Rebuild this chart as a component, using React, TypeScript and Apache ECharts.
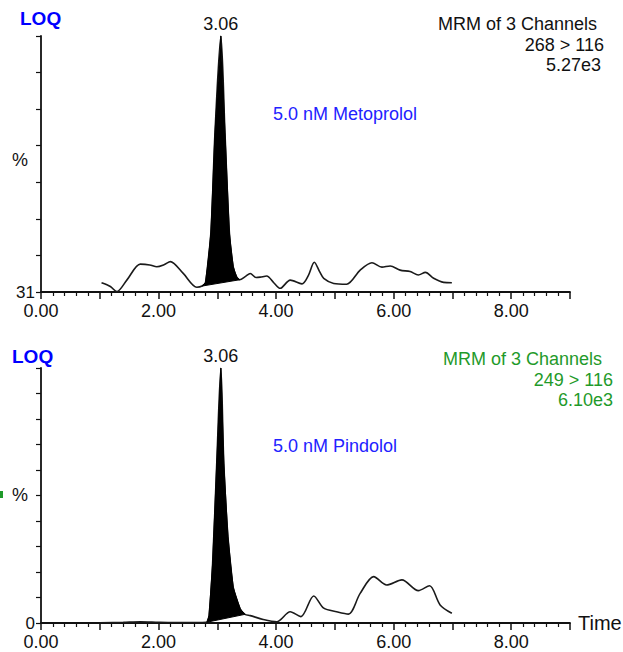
import React, { useEffect, useRef } from "react";
import * as echarts from "echarts";

// Top chromatogram: Metoprolol 268 > 116 (y axis from 31 to 100 %)
const T1 = [1.03, 1.18, 1.29, 1.46, 1.69, 1.85, 1.97, 2.1, 2.2, 2.42, 2.65, 2.74, 2.8, 2.89, 2.96, 3.06, 3.13, 3.205, 3.27, 3.33, 3.38, 3.48, 3.56, 3.66, 3.73, 3.84, 3.96, 4.07, 4.24, 4.44, 4.55, 4.65, 4.74, 4.81, 4.98, 5.2, 5.43, 5.63, 5.8, 5.94, 6.11, 6.28, 6.42, 6.54, 6.68, 6.85, 6.99];
const V1 = [33.5, 32.5, 31.1, 34.2, 38.5, 38.3, 37.8, 38.4, 39.2, 36.0, 32.3, 32.6, 33.6, 46.9, 73.9, 100, 73.9, 46.9, 37.8, 35.0, 34.3, 35.2, 36.0, 34.9, 35.0, 35.3, 33.5, 32.0, 34.2, 33.2, 35.5, 39.0, 36.5, 34.7, 33.3, 33.1, 36.9, 38.9, 37.7, 38.0, 36.9, 36.5, 35.6, 36.3, 34.7, 33.6, 33.5];
const PEAK1 = [11, 20]; // indices of integrated peak start / end

// Bottom chromatogram: Pindolol 249 > 116 (y axis 0 to 100 %)
const T2 = [1.0, 1.4, 1.69, 2.0, 2.25, 2.6, 2.82, 2.86, 2.92, 2.99, 3.06, 3.11, 3.18, 3.27, 3.39, 3.47, 3.56, 3.78, 4.01, 4.24, 4.42, 4.64, 4.81, 5.03, 5.23, 5.43, 5.66, 5.88, 6.14, 6.42, 6.61, 6.79, 6.99];
const V2 = [0.1, 0.3, 0.5, 0.3, 0.2, 0.2, 0.3, 3.0, 23.4, 62.6, 100, 62.6, 34.0, 14.0, 5.5, 3.4, 2.9, 1.4, 0.5, 4.4, 2.5, 10.6, 5.8, 4.4, 3.5, 11.6, 18.2, 14.9, 16.9, 12.7, 14.6, 7.1, 3.8];
const PEAK2 = [6, 15];

const PEAK_RT = "3.06";
const X_LABELS = [0, 2, 4, 6, 8];

const FONT = '"Liberation Sans", Arial, sans-serif';
const BLUE = "#2222ff";
const GREEN = "#1f9a2a";

function pairs(t: number[], v: number[]) {
  return t.map((x, i) => [x, v[i]]);
}

function xAxis(gridIndex: number, showName: boolean) {
  return {
    type: "value",
    gridIndex,
    min: 0,
    max: 9,
    interval: 1,
    name: showName ? "Time" : "",
    nameLocation: "end",
    nameGap: 8,
    nameTextStyle: { fontSize: 20, color: "#111", fontFamily: FONT, verticalAlign: "middle" },
    axisLine: { onZero: false, lineStyle: { color: "#111", width: 1.8 } },
    axisTick: { length: 7, lineStyle: { color: "#111", width: 1.5 } },
    minorTick: { show: true, splitNumber: 5, length: 4, lineStyle: { color: "#111", width: 1.2 } },
    splitLine: { show: false },
    minorSplitLine: { show: false },
    axisLabel: {
      fontSize: 18,
      lineHeight: 14,
      color: "#111",
      fontFamily: FONT,
      margin: 12,
      formatter: (v: number) => (X_LABELS.indexOf(v) >= 0 ? v.toFixed(2) : ""),
    },
  };
}

function yAxis(gridIndex: number, min: number, max: number, interval: number, label: string) {
  return {
    type: "value",
    gridIndex,
    min,
    max,
    interval,
    axisLine: { show: true, onZero: false, lineStyle: { color: "#111", width: 1.8 } },
    axisTick: { show: true, length: 5, lineStyle: { color: "#111", width: 1.2 } },
    splitLine: { show: false },
    axisLabel: {
      fontSize: 17,
      lineHeight: 12,
      padding: [0, 0, 4, 0],
      color: "#111",
      fontFamily: FONT,
      margin: 6,
      formatter: (v: number, i: number) => (i === 0 ? label : ""),
    },
  };
}

function peakFill(xAxisIndex: number, t: number[], v: number[], range: number[]) {
  return {
    type: "custom",
    xAxisIndex,
    yAxisIndex: xAxisIndex,
    clip: false,
    silent: true,
    z: 3,
    data: [[t[range[0]], v[range[0]]]],
    renderItem: (_params: any, api: any) => {
      const pts: number[][] = [];
      for (let i = range[0]; i <= range[1]; i++) pts.push(api.coord([t[i], v[i]]));
      return {
        type: "polygon",
        shape: { points: pts },
        style: { fill: "#000", stroke: "#000", lineWidth: 1 },
      };
    },
  };
}

function trace(xAxisIndex: number, t: number[], v: number[]) {
  return {
    type: "line",
    xAxisIndex,
    yAxisIndex: xAxisIndex,
    data: pairs(t, v),
    showSymbol: false,
    smooth: 0.3,
    z: 2,
    lineStyle: { color: "#1a1a1a", width: 1.6 },
    markPoint: {
      symbol: "circle",
      symbolSize: 0,
      data: [{ coord: [Number(PEAK_RT), 100], value: PEAK_RT }],
      label: {
        show: true,
        position: "top",
        distance: 3,
        formatter: PEAK_RT,
        fontSize: 18,
        color: "#111",
        fontFamily: FONT,
      },
    },
  };
}

function txt(text: string, x: number, y: number, color: string, size: number, align = "left", bold = false) {
  return {
    type: "text",
    x,
    y,
    silent: true,
    style: {
      text,
      fill: color,
      font: `${bold ? "bold " : ""}${size}px ${FONT}`,
      align,
      textAlign: align,
      verticalAlign: "middle",
      textVerticalAlign: "middle",
    },
  };
}

export default function App() {
  const ref = useRef<HTMLDivElement>(null);
  useEffect(() => {
    if (!ref.current) return;
    const chart = echarts.init(ref.current, undefined, { renderer: "svg" });
    chart.setOption({
      animation: false,
      backgroundColor: "#fff",
      grid: [
        { left: 41, top: 36, width: 529, height: 256 },
        { left: 41, top: 368, width: 529, height: 255 },
      ],
      xAxis: [xAxis(0, false), xAxis(1, true)],
      yAxis: [yAxis(0, 31, 100, 69 / 7, "31"), yAxis(1, 0, 100, 10, "0")],
      series: [
        trace(0, T1, V1),
        peakFill(0, T1, V1, PEAK1),
        trace(1, T2, V2),
        peakFill(1, T2, V2, PEAK2),
      ],
      graphic: [
        txt("LOQ", 20, 18, "#0000ff", 19, "left", true),
        txt("%", 12, 160, "#111", 18),
        txt("MRM of 3 Channels", 597, 24, "#111", 18, "right"),
        txt("268 > 116", 604, 45, "#111", 18, "right"),
        txt("5.27e3", 601, 65, "#111", 18, "right"),
        txt("5.0 nM Metoprolol", 273, 114, BLUE, 18),
        txt("LOQ", 12, 356, "#0000ff", 19, "left", true),
        txt("%", 12, 495, "#111", 18),
        { type: "rect", x: 0, y: 491, shape: { x: 0, y: 0, width: 3, height: 7 }, style: { fill: GREEN } },
        txt("MRM of 3 Channels", 602, 359, GREEN, 18, "right"),
        txt("249 > 116", 613, 380, GREEN, 18, "right"),
        txt("6.10e3", 613, 400, GREEN, 18, "right"),
        txt("5.0 nM Pindolol", 273, 446, BLUE, 18),
      ],
    });
    return () => chart.dispose();
  }, []);
  return (
    <div
      ref={ref}
      style={{ position: "fixed", left: 0, top: 0, width: 623, height: 652, background: "#fff" }}
    />
  );
}
